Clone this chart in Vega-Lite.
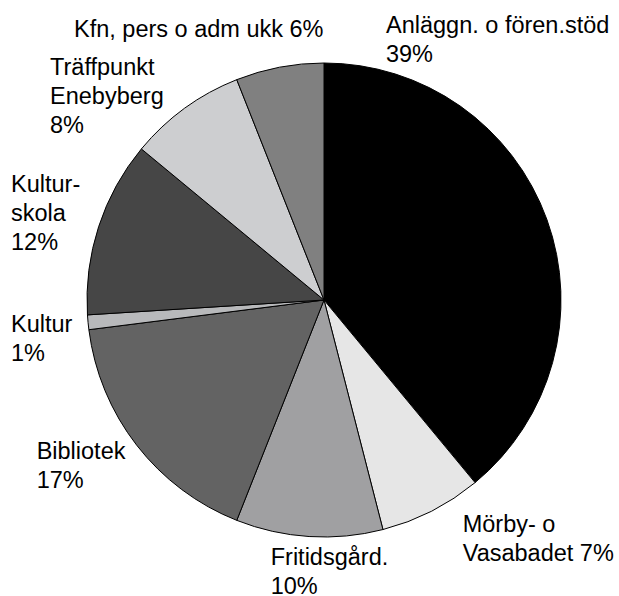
{
  "$schema": "https://vega.github.io/schema/vega-lite/v6.json",
  "width": 590,
  "height": 592,
  "autosize": {"type": "none"},
  "padding": {"left": 29, "right": 0, "top": 4, "bottom": 0},
  "background": "white",
  "view": {"stroke": null},
  "config": {"text": {"font": "Liberation Sans", "fontSize": 23.5, "lineHeight": 29, "lineBreak": "\n", "align": "left", "baseline": "middle", "color": "black"}},
  "data": {
    "values": [
      {"i": 1, "category": "Anläggn. o fören.stöd", "value": 39, "label": "Anläggn. o fören.stöd\n39%"},
      {"i": 2, "category": "Mörby- o Vasabadet", "value": 7, "label": "Mörby- o\nVasabadet 7%"},
      {"i": 3, "category": "Fritidsgård.", "value": 10, "label": "Fritidsgård.\n10%"},
      {"i": 4, "category": "Bibliotek", "value": 17, "label": "Bibliotek\n17%"},
      {"i": 5, "category": "Kultur", "value": 1, "label": "Kultur\n1%"},
      {"i": 6, "category": "Kulturskola", "value": 12, "label": "Kultur-\nskola\n12%"},
      {"i": 7, "category": "Träffpunkt Enebyberg", "value": 8, "label": "Träffpunkt\nEnebyberg\n8%"},
      {"i": 8, "category": "Kfn, pers o adm ukk", "value": 6, "label": "Kfn, pers o adm ukk 6%"}
    ]
  },
  "encoding": {
    "theta": {"field": "value", "type": "quantitative", "stack": true},
    "order": {"field": "i", "type": "quantitative"}
  },
  "layer": [
    {
      "mark": {"type": "arc", "outerRadius": 237, "stroke": "black", "strokeWidth": 1},
      "encoding": {
        "color": {
          "field": "category",
          "type": "nominal",
          "legend": null,
          "scale": {
            "domain": ["Anläggn. o fören.stöd", "Mörby- o Vasabadet", "Fritidsgård.", "Bibliotek", "Kultur", "Kulturskola", "Träffpunkt Enebyberg", "Kfn, pers o adm ukk"],
            "range": ["#000000", "#e6e6e6", "#a0a0a2", "#636363", "#b8b9bb", "#464646", "#cdced0", "#808080"]
          }
        }
      }
    },
    {"mark": {"type": "text", "radius": 280.6, "thetaOffset": -1.0025}, "encoding": {"text": {"condition": {"test": "datum.i === 1", "field": "label"}, "value": ""}}},
    {"mark": {"type": "text", "radius": 264.3, "thetaOffset": -0.0812}, "encoding": {"text": {"condition": {"test": "datum.i === 2", "field": "label"}, "value": ""}}},
    {"mark": {"type": "text", "radius": 263.9, "thetaOffset": 0.1405}, "encoding": {"text": {"condition": {"test": "datum.i === 3", "field": "label"}, "value": ""}}},
    {"mark": {"type": "text", "radius": 325.3, "thetaOffset": 0.1719}, "encoding": {"text": {"condition": {"test": "datum.i === 4", "field": "label"}, "value": ""}}},
    {"mark": {"type": "text", "radius": 314, "thetaOffset": 0.0145}, "encoding": {"text": {"condition": {"test": "datum.i === 5", "field": "label"}, "value": ""}}},
    {"mark": {"type": "text", "radius": 333.3, "thetaOffset": 0.0368}, "encoding": {"text": {"condition": {"test": "datum.i === 6", "field": "label"}, "value": ""}}},
    {"mark": {"type": "text", "radius": 359, "thetaOffset": -0.2398}, "encoding": {"text": {"condition": {"test": "datum.i === 7", "field": "label"}, "value": ""}}},
    {"mark": {"type": "text", "radius": 367.7, "thetaOffset": -0.559}, "encoding": {"text": {"condition": {"test": "datum.i === 8", "field": "label"}, "value": ""}}}
  ]
}
